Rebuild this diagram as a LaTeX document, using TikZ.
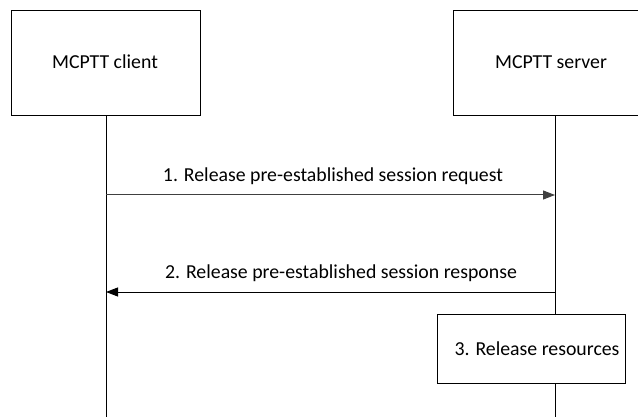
\documentclass[tikz,border=0pt]{standalone}
\usepackage{fontspec}
\setmainfont{Carlito}
\usetikzlibrary{arrows.meta}
\begin{document}
\begin{tikzpicture}[x=1pt,y=-1pt,
  every node/.style={font=\fontsize{19.8}{23}\selectfont},
  entity/.style={draw=black,line width=1pt,fill=white},
  lifeline/.style={draw=black,line width=1pt},
  msg/.style={line width=1pt,-{Triangle[length=12pt,width=9pt]}},
  lbl/.style={anchor=base,inner sep=0pt}]
\useasboundingbox (0,0) rectangle (638,417);
\clip (0,0) rectangle (638,417);
\fill[white] (0,0) rectangle (638,417);
% lifelines
\coordinate (ctop) at (106,116);
\coordinate (cbot) at (106,420);
\coordinate (stop) at (555,116);
\coordinate (sbot) at (555,420);
\draw[lifeline] (ctop) -- (cbot);
\draw[lifeline] (stop) -- (sbot);
% entity boxes
\path[entity] (11,11) rectangle (200,116);
\path[entity] (453,11) rectangle (645,116);
\node[lbl] (client) at (105,69) {MCPTT client};
\node[lbl] (server) at (551,69) {MCPTT server};
% step 3 box
\path[entity] (437,314) rectangle (625,383);
\node[lbl] (res) at (537,355) {3. Release resources};
% messages
\coordinate (m1a) at (106,195);
\coordinate (m1b) at (555,195);
\coordinate (m2a) at (555,292);
\coordinate (m2b) at (106,292);
\draw[msg,draw=black!75,fill=black!75] (m1a) -- (m1b);
\draw[msg,black] (m2a) -- (m2b);
\node[lbl] (l1) at (333,182) {1. Release pre-established session request};
\node[lbl] (l2) at (341,278) {2. Release pre-established session response};
\end{tikzpicture}
\end{document}
